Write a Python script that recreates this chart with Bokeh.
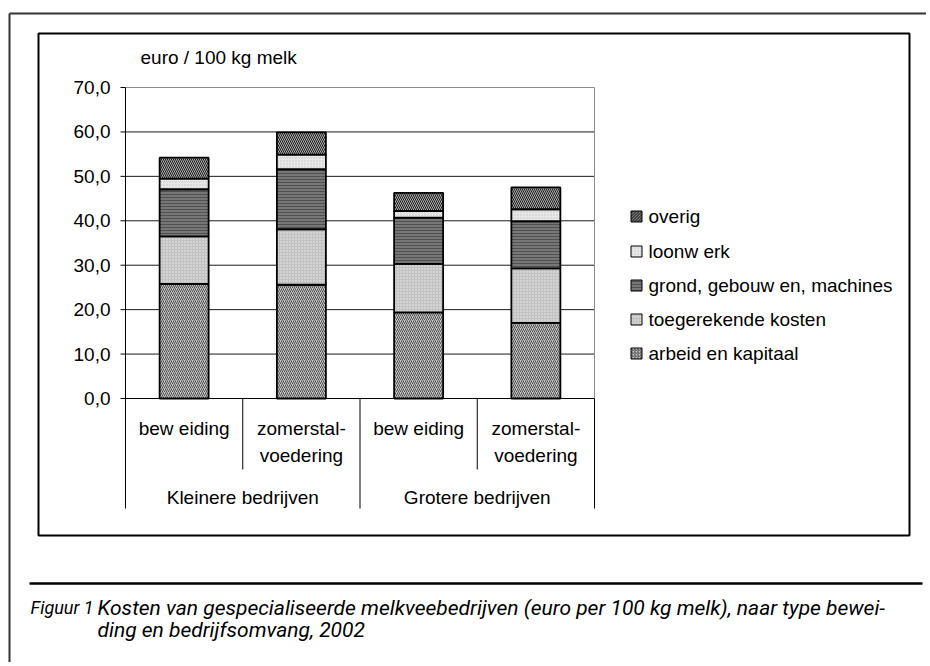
from bokeh.plotting import figure
from bokeh.models import Range1d
from bokeh.core.properties import value
from bokeh.embed import file_html
from bokeh.resources import INLINE

# ---------------- data ----------------
groups = ["Kleinere bedrijven", "Grotere bedrijven"]
cat_line1 = ["bew eiding", "zomerstal-", "bew eiding", "zomerstal-"]
cat_line2 = ["", "voedering", "", "voedering"]
series = ["arbeid en kapitaal", "toegerekende kosten", "grond, gebouw en, machines", "loonw erk", "overig"]
arbeid = [25.8, 25.6, 19.4, 17.0]
toeg = [10.7, 12.5, 10.9, 12.3]
grond = [10.6, 13.5, 10.4, 10.6]
loonwerk = [2.4, 3.3, 1.5, 2.7]
overig = [4.7, 5.0, 4.1, 4.9]
y_ticks = [0, 10, 20, 30, 40, 50, 60, 70]
y_tick_labels = ["0,0", "10,0", "20,0", "30,0", "40,0", "50,0", "60,0", "70,0"]
y_title = "euro / 100 kg melk"
caption_num = "Figuur 1"
caption_l1 = "Kosten van gespecialiseerde melkveebedrijven (euro per 100 kg melk), naar type bewei-"
caption_l2 = "ding en bedrijfsomvang, 2002"

# ---------------- styles ----------------
fills = ["#c4c4c4", "#c2c2c2", "#777777", "#e8e8e8", "#ababab"]
hatches = ["right_diagonal_line", "dot", "horizontal_line", "dot", "left_diagonal_line"]
hcolors = ["#505050", "#f0f0f0", "#505050", "#c4c4c4", "#1e1e1e"]
hscales = [4, 3, 3, 3, 4]
FONT = value("'Liberation Sans', Arial, sans-serif")
FS = "19px"

# ---------------- layout (page pixels) ----------------
W, H = 926, 662
PL, PR, PT, PB = 125, 594, 87, 398     # plot area
YMAX = 70
ncat = len(cat_line1)
cw = (PR - PL) / ncat

p = figure(width=W, height=H, output_backend="svg", toolbar_location=None,
           x_range=Range1d(0, W), y_range=Range1d(H, 0),
           x_axis_location=None, y_axis_location=None, min_border=0,
           outline_line_color=None)
p.grid.visible = False
p.background_fill_color = "white"
p.border_fill_color = "white"

def val_of(ypix):
    return (PB - ypix) * YMAX / (PB - PT)

p.extra_y_ranges = {"val": Range1d(val_of(H), val_of(0))}
p.extra_x_ranges = {"cat": Range1d((0 - PL) / cw, (W - PL) / cw)}

# outer frame (left + top visible)
p.segment(x0=[9, 9], y0=[13, 13], x1=[9, 940], y1=[700, 13], line_color="#333333", line_width=2)
# inner chart frame
p.quad(left=[38], right=[909], top=[33], bottom=[535], fill_color=None, line_color="black", line_width=2)
# caption rule
p.segment(x0=[29], y0=[583], x1=[922], y1=[583], line_color="black", line_width=2.5)

# gridlines
p.segment(x0=[PL] * (len(y_ticks) - 2), x1=[PR] * (len(y_ticks) - 2),
          y0=y_ticks[1:-1], y1=y_ticks[1:-1], y_range_name="val", line_color="#1a1a1a", line_width=1)
p.segment(x0=[PL], x1=[PR], y0=[y_ticks[-1]], y1=[y_ticks[-1]], y_range_name="val",
          line_color="#8c8c8c", line_width=1)
p.segment(x0=[PR], x1=[PR], y0=[0], y1=[y_ticks[-1]], y_range_name="val",
          line_color="#8c8c8c", line_width=1)

# bars
xs = [i + 0.5 for i in range(ncat)]
data = dict(x=xs, arbeid=arbeid, toeg=toeg, grond=grond, loonwerk=loonwerk, overig=overig)
keys = ["arbeid", "toeg", "grond", "loonwerk", "overig"]
p.vbar_stack(keys, x="x", width=0.418, source=data, x_range_name="cat", y_range_name="val",
             fill_color=fills, hatch_pattern=hatches, hatch_color=hcolors, hatch_scale=hscales,
             hatch_weight=[1] * 5, line_color="black", line_width=1.8)

# y axis
p.segment(x0=[PL], x1=[PL], y0=[0], y1=[y_ticks[-1]], y_range_name="val", line_color="black", line_width=1)
p.segment(x0=[PL - 5] * len(y_ticks), x1=[PL] * len(y_ticks), y0=y_ticks, y1=y_ticks,
          y_range_name="val", line_color="black", line_width=1)
p.text(x=[110] * len(y_ticks), y=y_ticks, text=y_tick_labels, y_range_name="val",
       text_align="right", text_baseline="middle", text_font=FONT, text_font_size=FS, text_color="black")
p.text(x=[140], y=[57], text=[y_title], text_align="left", text_baseline="middle",
       text_font=FONT, text_font_size=FS, text_color="black")

# category axis
p.segment(x0=[PL], x1=[PR], y0=[0], y1=[0], y_range_name="val", line_color="black", line_width=1)
seps = list(range(ncat + 1))
sep_bottom = [508 if s % 2 == 0 else 469 for s in seps]
p.segment(x0=seps, x1=seps, y0=[PB] * len(seps), y1=sep_bottom, x_range_name="cat",
          line_color="black", line_width=1)
p.text(x=xs, y=[428] * ncat, text=cat_line1, x_range_name="cat", text_align="center",
       text_baseline="middle", text_font=FONT, text_font_size=FS, text_color="black")
p.text(x=xs, y=[455] * ncat, text=cat_line2, x_range_name="cat", text_align="center",
       text_baseline="middle", text_font=FONT, text_font_size=FS, text_color="black")
gx = [2 * g + 1 for g in range(len(groups))]
p.text(x=gx, y=[497] * len(groups), text=groups, x_range_name="cat", text_align="center",
       text_baseline="middle", text_font=FONT, text_font_size=FS, text_color="black")

# legend (top = last series)
rows = [216, 251, 285, 319, 353]
order = list(reversed(range(len(series))))
p.rect(x=[636] * 5, y=rows, width=11, height=11,
       fill_color=[fills[i] for i in order], hatch_pattern=[hatches[i] for i in order],
       hatch_color=[hcolors[i] for i in order], hatch_scale=3, hatch_weight=1,
       line_color="black", line_width=1)
p.text(x=[648] * 5, y=rows, text=[series[i] for i in order], text_align="left",
       text_baseline="middle", text_font=FONT, text_font_size=FS, text_color="black")

# caption
CF = value("Roboto")
p.text(x=[30], y=[607], text=[caption_num], text_font=CF, text_font_style="italic",
       text_font_size="18px", text_baseline="alphabetic", text_color="black")
p.text(x=[97, 97], y=[607, 629], text=[caption_l1, caption_l2], text_font=CF,
       text_font_style="italic", text_font_size="21px", text_baseline="alphabetic", text_color="black")

open("out.html", "w").write(file_html(p, INLINE))
